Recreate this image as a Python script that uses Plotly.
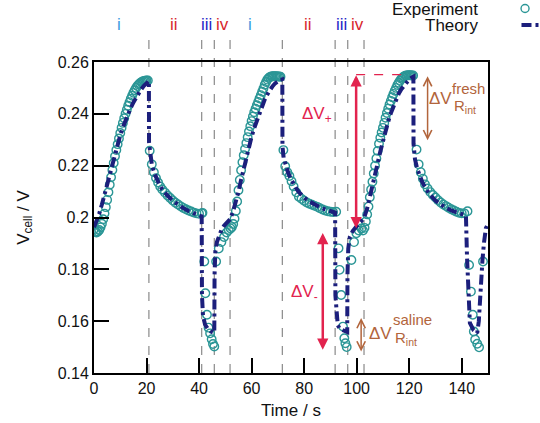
import plotly.graph_objects as go

# ---------------- data ----------------
exp_t = [0.0, 0.5, 1.0, 1.5, 2.0, 2.5, 3.0, 3.5, 4.0, 4.5, 5.0, 5.5, 6.0, 6.5, 7.0, 7.5, 8.0, 8.5, 9.0, 9.5,
         10.0, 10.5, 11.0, 11.5, 12.0, 12.5, 13.0, 13.5, 14.0, 14.5, 15.0, 15.5, 16.0, 16.5, 17.0, 17.5, 18.0, 18.5,
         19.0, 19.5, 20.0, 20.5,
         21.2, 22.0, 22.8, 23.6, 24.4, 25.2, 26.0, 27.0, 28.0, 29.0, 30.0, 31.0, 32.0, 33.0, 34.0, 35.0, 36.0, 37.0,
         38.0, 39.0, 40.0, 41.0, 41.3,
         42.0, 42.4, 43.0, 43.6, 44.2, 44.8, 45.3, 45.8,
         46.5, 47.5, 48.5, 49.5, 50.5, 51.3,
         52.0, 52.5, 53.0, 53.5, 54.0, 54.5, 55.0, 55.5, 56.0, 56.5, 57.0, 57.5, 58.0, 58.5, 59.0, 59.5, 60.0, 60.5,
         61.0, 61.5, 62.0, 62.5, 63.0, 63.5, 64.0, 64.5, 65.0, 65.5, 66.0, 66.5, 67.0, 67.5, 68.0, 68.5, 69.0, 69.5,
         70.0, 70.5, 71.0,
         72.1, 72.8, 73.6, 74.4, 75.2, 76.0, 77.0, 78.0, 79.0, 80.0, 81.0, 82.0, 83.0, 84.0, 85.0, 86.0, 87.0, 88.0,
         89.0, 90.0, 91.0, 92.2,
         93.1, 93.5, 94.1, 94.8, 95.3, 95.7, 96.2,
         98.0, 99.0, 99.9, 100.8, 101.8, 102.4, 103.0,
         103.5, 104.0, 104.5, 105.0, 105.5, 106.0, 106.5, 107.0, 107.5, 108.0, 108.5, 109.0, 109.5, 110.0, 110.5,
         111.0, 111.5, 112.0, 112.5, 113.0, 113.5, 114.0, 114.5, 115.0, 115.5, 116.0, 116.5, 117.0, 117.5, 118.0,
         118.5, 119.0, 119.5, 120.0, 120.5, 121.0, 121.5,
         122.8, 123.6, 124.4, 125.2, 126.0, 127.0, 128.0, 129.0, 130.0, 131.0, 132.0, 133.0, 134.0, 135.0, 136.0,
         137.0, 138.0, 139.0, 140.0, 141.0, 142.2,
         142.8, 143.5, 144.2, 144.6, 145.1, 145.9, 146.6,
         148.1]
exp_v = [0.1955, 0.1945, 0.1942, 0.1946, 0.1952, 0.1962, 0.1976, 0.1993, 0.2015, 0.2040, 0.2068, 0.2097, 0.2126,
         0.2155, 0.2183, 0.2210, 0.2236, 0.2260, 0.2283, 0.2305, 0.2326, 0.2346, 0.2365, 0.2383, 0.2400, 0.2416,
         0.2431, 0.2445, 0.2458, 0.2470, 0.2481, 0.2491, 0.2500, 0.2507, 0.2513, 0.2518, 0.2522, 0.2525, 0.2527,
         0.2528, 0.2529, 0.2529,
         0.2258, 0.2205, 0.2175, 0.2152, 0.2135, 0.2120, 0.2108, 0.2096, 0.2085, 0.2075, 0.2066, 0.2057, 0.2050,
         0.2043, 0.2037, 0.2032, 0.2027, 0.2023, 0.2019, 0.2016, 0.2014, 0.2016, 0.2018,
         0.1830, 0.1708, 0.1625, 0.1575, 0.1553, 0.1530, 0.1512, 0.1502,
         0.1830, 0.1880, 0.1905, 0.1925, 0.1942, 0.1952,
         0.1958, 0.1963, 0.1975, 0.1995, 0.2025, 0.2062, 0.2105, 0.2145, 0.2182, 0.2213, 0.2240, 0.2264, 0.2287,
         0.2310, 0.2332, 0.2352, 0.2372, 0.2390, 0.2406, 0.2420, 0.2433, 0.2446, 0.2459, 0.2472, 0.2485, 0.2498,
         0.2512, 0.2523, 0.2532, 0.2538, 0.2542, 0.2544, 0.2545, 0.2545, 0.2545, 0.2545, 0.2544, 0.2544, 0.2543,
         0.2260, 0.2198, 0.2175, 0.2160, 0.2140, 0.2120, 0.2097, 0.2080, 0.2072, 0.2065, 0.2058, 0.2053, 0.2049,
         0.2045, 0.2041, 0.2036, 0.2031, 0.2027, 0.2024, 0.2022, 0.2021, 0.2022,
         0.1881, 0.1798, 0.1701, 0.1579, 0.1534, 0.1515, 0.1500,
         0.1836, 0.1905, 0.1939, 0.1950, 0.1958, 0.1950, 0.1960,
         0.1985, 0.2012, 0.2042, 0.2078, 0.2108, 0.2138, 0.2170, 0.2200, 0.2228, 0.2257, 0.2285, 0.2308, 0.2328,
         0.2346, 0.2365, 0.2385, 0.2403, 0.2420, 0.2436, 0.2450, 0.2464, 0.2477, 0.2489, 0.2500, 0.2511, 0.2520,
         0.2528, 0.2535, 0.2540, 0.2544, 0.2547, 0.2548, 0.2549, 0.2549, 0.2549, 0.2548, 0.2548,
         0.2262, 0.2205, 0.2175, 0.2150, 0.2128, 0.2112, 0.2098, 0.2087, 0.2077, 0.2067, 0.2058, 0.2050, 0.2044,
         0.2038, 0.2032, 0.2027, 0.2022, 0.2018, 0.2016, 0.2016, 0.2024,
         0.1817, 0.1714, 0.1625, 0.1560, 0.1529, 0.1513, 0.1499,
         0.1830]

theory_t = [0, 1, 2, 3, 4, 5, 6, 7, 8, 9, 10, 11, 12, 13, 14, 15, 16, 17, 18, 19, 20, 20.9,
            20.95, 21.5, 22, 23, 24, 25, 26, 27, 28, 30, 32, 34, 36, 38, 40, 41.0,
            41.1, 41.5, 42.3, 43.5, 44.5, 45.8,
            45.9, 46.2, 46.8, 47.5, 48.5, 49.5, 50.5, 51.8,
            53, 54, 55, 56, 57, 58, 59, 60, 61, 62, 63, 64, 65, 66, 67, 68, 69, 70, 71, 71.7,
            71.75, 72.2, 73, 74, 75, 76, 77, 78, 80, 82, 84, 86, 88, 90, 91.8,
            91.9, 92.3, 92.8, 93.6, 95, 96.4,
            96.5, 96.8, 97.4, 98.5, 99.9, 101, 102.8,
            104, 105, 106, 107, 108, 109, 110, 111, 112, 113, 114, 115, 116, 117, 118, 119, 120, 121, 121.6,
            121.65, 122.2, 123, 124, 125, 126, 127, 128, 130, 132, 134, 136, 138, 140, 141.6,
            142.0, 142.5, 143.1, 144.5, 145.9, 146.5, 146.9, 147.9, 148.5, 149.2, 150]
theory_v = [0.1962, 0.1985, 0.2015, 0.2050, 0.2090, 0.2130, 0.2170, 0.2210, 0.2248, 0.2285, 0.2318, 0.2348,
            0.2375, 0.2400, 0.2423, 0.2444, 0.2463, 0.2480, 0.2495, 0.2508, 0.2519, 0.2527,
            0.2290, 0.2240, 0.2205, 0.2170, 0.2145, 0.2125, 0.2108, 0.2095, 0.2084, 0.2065, 0.2050, 0.2036, 0.2025,
            0.2015, 0.2008, 0.2004,
            0.1700, 0.1620, 0.1586, 0.1568, 0.1560, 0.1555,
            0.1780, 0.1870, 0.1905, 0.1930, 0.1952, 0.1968, 0.1980, 0.1993,
            0.2025, 0.2060, 0.2100, 0.2145, 0.2190, 0.2235, 0.2275, 0.2312, 0.2345, 0.2375, 0.2403, 0.2430, 0.2455,
            0.2475, 0.2493, 0.2507, 0.2518, 0.2526, 0.2531, 0.2533,
            0.2275, 0.2230, 0.2198, 0.2170, 0.2148, 0.2128, 0.2112, 0.2098, 0.2077, 0.2062, 0.2050, 0.2040, 0.2031,
            0.2024, 0.2019,
            0.1700, 0.1620, 0.1585, 0.1570, 0.1562, 0.1558,
            0.1780, 0.1880, 0.1925, 0.1948, 0.1965, 0.1978, 0.1998,
            0.2035, 0.2075, 0.2120, 0.2165, 0.2210, 0.2255, 0.2297, 0.2335, 0.2370, 0.2402, 0.2430, 0.2455, 0.2477,
            0.2495, 0.2510, 0.2523, 0.2533, 0.2540, 0.2543,
            0.2285, 0.2225, 0.2190, 0.2160, 0.2136, 0.2116, 0.2100, 0.2087, 0.2065, 0.2049, 0.2037, 0.2027, 0.2019,
            0.2013, 0.2008,
            0.1850, 0.1700, 0.1593, 0.1565, 0.1554, 0.1600, 0.1680, 0.1837, 0.1905, 0.1959, 0.1975]

phase_bounds = [20.9, 41.0, 45.8, 51.8, 71.7, 91.8, 96.6, 102.8]
phase_labels = ["i", "ii", "iii", "iv", "i", "ii", "iii", "iv"]
phase_label_t = [9.5, 30.4, 42.9, 49.1, 59.5, 81.3, 94.1, 100.4]
phase_colors = ["#3a9be0", "#d8262c", "#2424c8", "#d8262c", "#3a9be0", "#d8262c", "#2424c8", "#d8262c"]

x_ticks = [0, 20, 40, 60, 80, 100, 120, 140]
y_ticks = [0.14, 0.16, 0.18, 0.2, 0.22, 0.24, 0.26]

TEAL = "#2b9696"
NAVY = "#1c1f7c"
RED = "#e2234e"
BROWN = "#b2653c"
FONT = "Liberation Sans, Arial, sans-serif"

fig = go.Figure()
fig.add_trace(go.Scatter(x=exp_t, y=exp_v, mode="markers", name="Experiment",
                         marker=dict(symbol="circle-open", size=8.5, color=TEAL, line=dict(width=1.4, color=TEAL)),
                         showlegend=False))
fig.add_trace(go.Scatter(x=theory_t, y=theory_v, mode="lines", name="Theory",
                         line=dict(color=NAVY, width=4, dash="10px,4px,3px,4px"),
                         showlegend=False))

shapes = []
for b in phase_bounds:
    shapes.append(dict(type="line", xref="x", yref="paper", x0=b, x1=b, y0=0, y1=1.08,
                       line=dict(color="#8a8a8a", width=1.2, dash="dash"), layer="below"))
# red dashed reference line at top of ΔV+
shapes.append(dict(type="line", xref="x", yref="y", x0=99.8, x1=120.3, y0=0.2551, y1=0.2551,
                   line=dict(color=RED, width=1.2, dash="dash")))
# legend glyphs
shapes.append(dict(type="circle", xref="paper", yref="paper", xsizemode="pixel", ysizemode="pixel",
                   xanchor=1.094, yanchor=1.172, x0=-4, x1=4, y0=-4, y1=4,
                   line=dict(color=TEAL, width=1.4)))
shapes.append(dict(type="line", xref="paper", yref="paper", x0=1.085, x1=1.14, y0=1.119, y1=1.119,
                   line=dict(color=NAVY, width=4, dash="10px,4px,3px,4px")))

ann = []
for lab, t, c in zip(phase_labels, phase_label_t, phase_colors):
    ann.append(dict(x=t, y=1.119, xref="x", yref="paper", text=lab, showarrow=False, yanchor="middle",
                    font=dict(size=17, color=c, family=FONT)))
ann.append(dict(x=0.98, y=1.170, xref="paper", yref="paper", text="Experiment", showarrow=False,
                xanchor="right", yanchor="middle", font=dict(size=17, color="#111", family=FONT)))
ann.append(dict(x=0.98, y=1.116, xref="paper", yref="paper", text="Theory", showarrow=False,
                xanchor="right", yanchor="middle", font=dict(size=17, color="#111", family=FONT)))

def dbl_arrow(x, y0, y1, color, width, head, size):
    return dict(x=x, y=y1, ax=x, ay=y0, xref="x", yref="y", axref="x", ayref="y", text="",
                showarrow=True, arrowside="end+start", arrowhead=head, startarrowhead=head,
                arrowsize=size, startarrowsize=size, arrowwidth=width, arrowcolor=color,
                standoff=0, startstandoff=0)

ann.append(dbl_arrow(99.8, 0.2555, 0.1959, RED, 2.5, 2, 0.9))
ann.append(dbl_arrow(87.1, 0.1946, 0.1490, RED, 2.5, 2, 0.9))
ann.append(dbl_arrow(127.0, 0.2551, 0.2298, BROWN, 1.5, 5, 1.1))
ann.append(dbl_arrow(101.7, 0.1618, 0.1483, BROWN, 1.5, 5, 1.1))

def txt(x, y, s, color, size, xanchor="center"):
    return dict(x=x, y=y, xref="x", yref="y", text=s, showarrow=False, xanchor=xanchor, yanchor="middle",
                font=dict(size=size, color=color, family=FONT))

ann.append(txt(85.0, 0.2395, "ΔV<sub>+</sub>", RED, 17))
ann.append(txt(80.0, 0.1708, "ΔV<sub>-</sub>", RED, 17))
# fresh
ann.append(txt(131.9, 0.2459, "ΔV", BROWN, 17))
ann.append(txt(142.4, 0.2498, "fresh", BROWN, 15))
ann.append(txt(136.2, 0.2427, "R<sub>int</sub>", BROWN, 15, "left"))
# saline
ann.append(txt(109.1, 0.1554, "ΔV", BROWN, 17))
ann.append(txt(121.1, 0.1606, "saline", BROWN, 15))
ann.append(txt(113.9, 0.1535, "R<sub>int</sub>", BROWN, 15, "left"))

fig.update_layout(
    width=540, height=423,
    margin=dict(l=94, r=52, t=62, b=50, autoexpand=False),
    paper_bgcolor="white", plot_bgcolor="white",
    font=dict(family=FONT, size=16, color="#111"),
    shapes=shapes, annotations=ann,
    showlegend=False,
)
fig.update_xaxes(range=[0, 150], tickvals=x_ticks, ticks="inside", ticklen=15, tickwidth=2, tickcolor="black",
                 showline=True, linewidth=2, linecolor="black", mirror=True, showgrid=False, zeroline=False,
                 automargin=False,
                 title=dict(text="Time / s", font=dict(size=17), standoff=8),
                 tickfont=dict(size=16))
fig.update_yaxes(range=[0.14, 0.26], tickvals=y_ticks, ticks="inside", ticklen=15, tickwidth=2, tickcolor="black",
                 showline=True, linewidth=2, linecolor="black", mirror=True, showgrid=False, zeroline=False,
                 automargin=False,
                 title=dict(text="V<sub>cell</sub> / V", font=dict(size=17), standoff=24),
                 tickfont=dict(size=16))

# remove the browser's default 8px body margin so the figure fills the window exactly
fig.write_html("out.html", config={"displayModeBar": False},
               post_script="document.body.style.margin='0px';")
